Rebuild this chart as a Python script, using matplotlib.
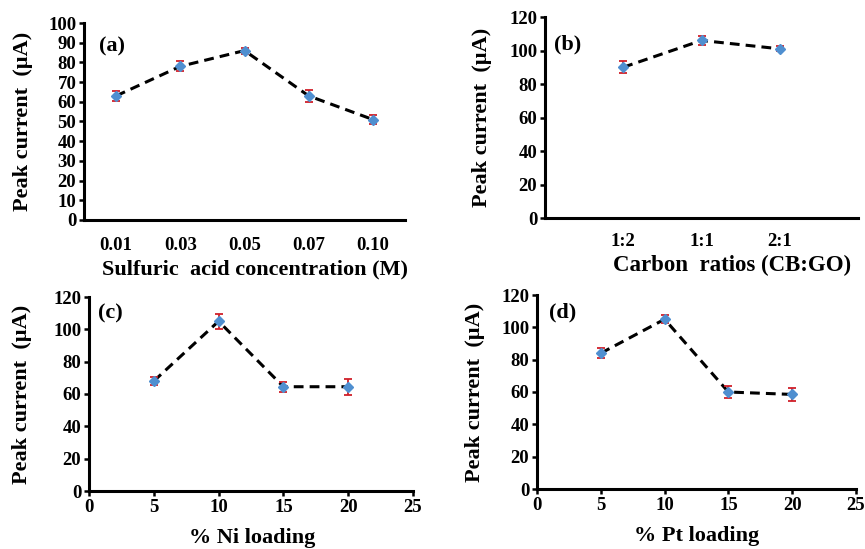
import numpy as np
import matplotlib.pyplot as plt

# (a) sulfuric acid concentration
acid_labels = ['0.01', '0.03', '0.05', '0.07', '0.10']
acid_current = [63, 78, 86, 63, 51]
acid_err = [2.5, 2.5, 1.5, 3, 2.5]

# (b) carbon ratios
ratio_labels = ['1:2', '1:1', '2:1']
ratio_current = [90, 106, 101]
ratio_err = [3.5, 2.5, 1.5]

# (c) Ni loading
ni_loading = [5, 10, 15, 20]
ni_current = [68, 105, 64.5, 64.5]
ni_err = [2.5, 4.5, 3, 5]

# (d) Pt loading
pt_loading = [5, 10, 15, 20]
pt_current = [84, 105, 60, 58.5]
pt_err = [3, 2.5, 4, 4]

plt.rcParams['font.family'] = 'Liberation Serif'
plt.rcParams['font.weight'] = 'bold'

W, H = 865, 549
fig = plt.figure(figsize=(W / 100, H / 100), dpi=100)


def px_axes(l, t, r, b):
    return fig.add_axes([l / W, 1 - b / H, (r - l) / W, (b - t) / H])


ax_a = px_axes(84, 23, 405, 220)
ax_b = px_axes(545, 17, 858, 218)
ax_c = px_axes(89, 297, 413, 491)
ax_d = px_axes(537, 295, 856, 489)


def draw(ax, x, y, err):
    ax.plot(x, y, color='black', ls=(0, (3.2, 2)), lw=2.2, zorder=2)
    ax.errorbar(x, y, yerr=err, fmt='none', ecolor='#d0202a', elinewidth=1.3,
                capsize=3, capthick=1.3, zorder=3)
    ax.plot(x, y, ls='none', marker='D', ms=5.5, color='#4f8fd0', zorder=4)
    for s in ['top', 'right']:
        ax.spines[s].set_visible(False)
    for s in ['left', 'bottom']:
        ax.spines[s].set_linewidth(2.2)
    ax.tick_params(direction='out', length=3.5, width=1.8, labelsize=13.5, pad=2)


def labels(ax, xlab, xl_px, yl_px, ylab_x_px, panel, panel_px, xsize=16):
    bb = ax.get_position()
    l, b = bb.x0 * W, (1 - bb.y0) * H
    w, h = bb.width * W, bb.height * H
    ax.set_xlabel(xlab, fontsize=xsize, fontweight='bold', va='center')
    ax.xaxis.set_label_coords((xl_px - l) / w, (b - yl_px) / h)
    ax.set_ylabel('Peak current  (\u00b5A)', fontsize=16, fontweight='bold', va='center')
    ax.yaxis.set_label_coords((ylab_x_px - l) / w, 0.5)
    fig.text(panel_px[0] / W, 1 - panel_px[1] / H, panel, fontsize=16,
             fontweight='bold', ha='center', va='center')
    for t in ax.get_xticklabels() + ax.get_yticklabels():
        t.set_fontweight('bold')


# (a)
pos_a = np.arange(1, len(acid_labels) + 1)
draw(ax_a, pos_a, acid_current, acid_err)
ax_a.set_xlim(0.5, 5.5)
ax_a.set_ylim(0, 100)
ax_a.set_yticks(range(0, 101, 10))
ax_a.set_xticks(pos_a)
ax_a.set_xticklabels(acid_labels)
ax_a.tick_params(axis='x', length=0, pad=12)
labels(ax_a, 'Sulfuric  acid concentration (M)', 255, 269, 23, '(a)', (112, 46))

# (b)
pos_b = np.arange(1, len(ratio_labels) + 1)
draw(ax_b, pos_b, ratio_current, ratio_err)
ax_b.set_xlim(0, 4)
ax_b.set_ylim(0, 120)
ax_b.set_yticks(range(0, 121, 20))
ax_b.set_xticks(pos_b)
ax_b.set_xticklabels(ratio_labels)
ax_b.tick_params(axis='x', length=0, pad=11)
labels(ax_b, 'Carbon  ratios (CB:GO)', 732, 265, 482, '(b)', (568, 44), xsize=16.5)

# (c)
draw(ax_c, ni_loading, ni_current, ni_err)
ax_c.set_xlim(0, 25)
ax_c.set_ylim(0, 120)
ax_c.set_yticks(range(0, 121, 20))
ax_c.set_xticks(range(0, 26, 5))
labels(ax_c, '% Ni loading', 252, 538, 22, '(c)', (110, 313))

# (d)
draw(ax_d, pt_loading, pt_current, pt_err)
ax_d.set_xlim(0, 25)
ax_d.set_ylim(0, 120)
ax_d.set_yticks(range(0, 121, 20))
ax_d.set_xticks(range(0, 26, 5))
labels(ax_d, '% Pt loading', 697, 536, 475, '(d)', (563, 312))

fig.savefig('out.png', dpi=100)
